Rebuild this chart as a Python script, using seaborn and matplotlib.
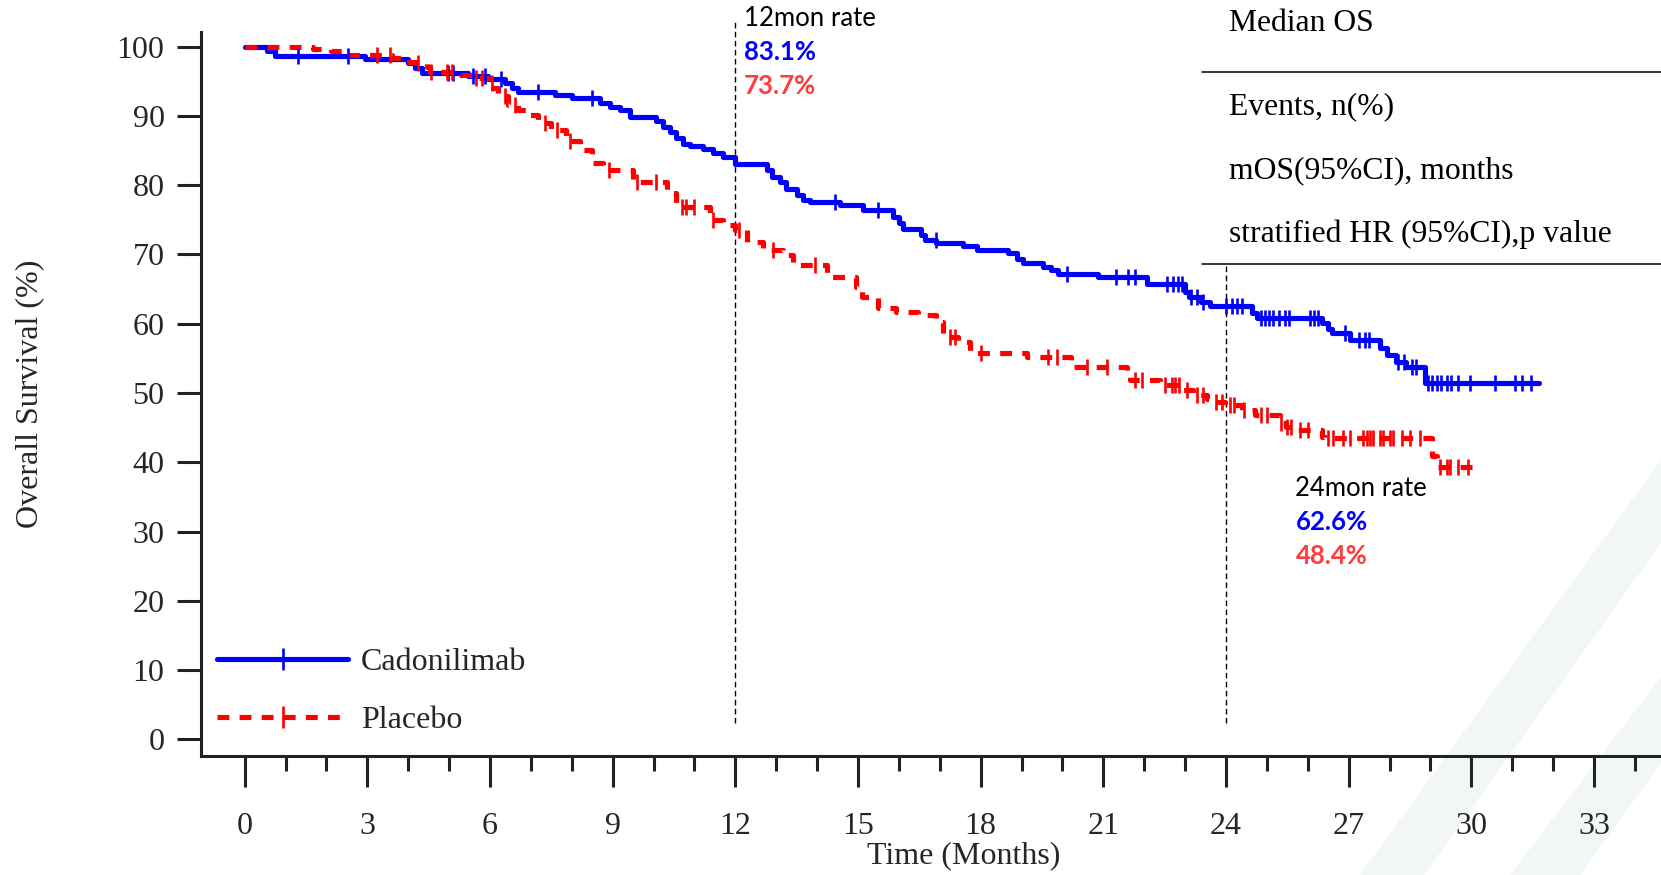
import numpy as np
import matplotlib
matplotlib.use("Agg")
import matplotlib.pyplot as plt
from matplotlib.lines import Line2D
from matplotlib.patches import Polygon
import seaborn as sns

# Kaplan-Meier step points (months, survival %)
blue_time = [0, 0.54, 0.74, 2.94, 4.0, 4.16, 4.33, 5.46, 5.95, 6.37, 6.53, 6.69, 7.59, 8.0,
             8.69, 8.93, 9.17, 9.42, 10.07, 10.23, 10.4, 10.56, 10.72, 10.9, 11.2, 11.45, 11.7,
             12.0, 12.77, 12.9, 13.1, 13.25, 13.5, 13.65, 13.83, 14.56, 15.13, 15.86, 16.0, 16.1,
             16.55, 16.64, 16.92, 17.57, 17.9, 18.67, 18.88, 19.04, 19.53, 19.73, 19.9, 20.87,
             22.06, 23.0, 23.1, 23.4, 23.6, 24.63, 24.75, 26.34, 26.5, 26.6, 27.03, 27.77, 27.93,
             28.17, 28.4, 28.86]
blue_surv = [100, 99.3, 98.6, 98.2, 97.6, 96.9, 96.2, 95.8, 95.3, 94.8, 94.0, 93.5, 93.0, 92.6,
             91.9, 91.3, 90.8, 89.9, 89.2, 88.4, 87.7, 86.8, 86.0, 85.6, 85.2, 84.6, 84.1,
             83.0, 82.2, 81.2, 80.5, 79.5, 78.6, 77.9, 77.6, 77.1, 76.4, 75.4, 74.5, 73.6,
             72.8, 72.1, 71.7, 71.2, 70.7, 70.2, 69.4, 68.7, 68.2, 67.7, 67.2, 66.7,
             65.8, 64.6, 63.9, 63.2, 62.6, 61.5, 60.8, 60.1, 59.3, 58.6, 57.6, 56.5, 55.5,
             54.5, 53.8, 51.5]
blue_end = 31.66
blue_censor = [1.31, 2.53, 4.97, 5.1, 5.58, 5.88, 6.28, 7.18, 8.5, 14.44, 15.5, 16.9, 20.1,
               21.3, 21.6, 21.78, 22.55, 22.7, 22.83, 22.92, 23.15, 23.3, 23.45, 24.0, 24.14,
               24.26, 24.38, 24.85, 24.95, 25.05, 25.15, 25.3, 25.45, 25.55, 26.05, 26.15, 26.25,
               26.9, 27.25, 27.4, 27.5, 28.2, 28.35, 28.55, 28.65, 28.95, 29.05, 29.15, 29.25,
               29.4, 29.5, 29.68, 29.97, 30.58, 31.07, 31.23, 31.47]

red_time = [0, 1.67, 2.1, 2.5, 3.6, 3.92, 4.2, 4.45, 4.53, 5.3, 5.55, 5.96, 6.08, 6.2, 6.45,
            6.69, 6.94, 7.18, 7.5, 7.87, 8.2, 8.49, 8.77, 9.5, 10.32, 10.56, 11.38, 11.7, 12.0,
            12.28, 12.68, 13.17, 13.42, 14.23, 14.95, 15.1, 15.5, 15.94, 16.47, 16.92, 17.08,
            17.45, 17.74, 19.13, 20.2, 21.57, 21.65, 22.38, 22.95, 23.2, 23.53, 23.65, 23.97,
            24.38, 24.7, 25.32, 25.48, 25.68, 26.34, 26.42, 29.05, 29.15]
red_surv = [100, 99.6, 99.3, 98.8, 98.3, 97.8, 97.6, 97.1, 96.4, 95.9, 95.4, 94.7, 94.0, 92.8,
            91.6, 90.8, 90.1, 88.9, 88.0, 86.3, 85.1, 83.2, 82.2, 80.5, 78.8, 76.9, 75.0, 74.2,
            73.5, 71.8, 70.6, 69.9, 68.5, 66.8, 65.3, 63.9, 62.2, 61.7, 61.3, 60.3, 58.1,
            57.4, 55.7, 55.2, 53.8, 52.8, 51.9, 51.2, 50.4, 49.7, 49.2, 48.7, 48.3,
            47.5, 46.8, 45.6, 45.1, 44.7, 43.7, 43.5, 40.9, 39.3]
red_end = 30.1
red_censor = [3.23, 3.55, 4.24, 4.55, 4.96, 5.07, 5.65, 5.8, 6.04, 6.37, 6.61, 7.34, 7.63, 7.96,
              8.9, 9.6, 10.07, 10.69, 10.8, 11.0, 11.46, 12.1, 12.93, 13.95, 17.25, 17.37, 18.02,
              19.65, 19.86, 20.6, 21.08, 21.78, 21.94, 22.5, 22.67, 22.75, 22.85, 23.05, 23.3,
              23.45, 23.75, 23.9, 24.1, 24.2, 24.45, 24.85, 25.0, 25.35, 25.5, 25.6, 25.8, 26.0,
              26.5, 26.62, 26.87, 27.03, 27.36, 27.44, 27.52, 27.6, 27.77, 27.85, 28.01, 28.09,
              28.3, 28.5, 28.74, 29.23, 29.4, 29.47, 29.68, 29.92]

groups = ["Cadonilimab", "Placebo"]
rate_months = [12, 24]
rates_blue = ["83.1%", "62.6%"]
rates_red = ["73.7%", "48.4%"]
table_rows = ["Median OS", "Events, n(%)", "mOS(95%CI), months", "stratified HR (95%CI),p value"]

BLUE = "#0000ff"
RED = "#ff0000"
RED_TXT = "#ff3b3b"
SERIF = ["Liberation Serif", "DejaVu Serif"]
SANS = ["Lato", "DejaVu Sans"]

sns.set_theme(style="ticks")
plt.rcParams["font.family"] = SERIF

fig = plt.figure(figsize=(16.61, 8.75), dpi=100)

# faint diagonal watermark stripes in the lower right corner (behind everything)
for pts in ([(1360, 875), (1661, 460), (1661, 543), (1424, 875)],
            [(1510, 875), (1661, 677), (1661, 763), (1580, 875)]):
    fig.patches.append(Polygon([(x / 1661, 1 - y / 875) for x, y in pts], closed=True,
                               transform=fig.transFigure, facecolor="#f2f6f6",
                               edgecolor="none", zorder=-5))

ax = fig.add_axes([0.1212, 0.1357, 0.8788, 0.828])
ax.patch.set_alpha(0)


def step_at(times, surv, t):
    idx = np.searchsorted(times, t, side="right") - 1
    return np.asarray(surv)[idx]


# survival curves
sns.lineplot(x=blue_time + [blue_end], y=blue_surv + [blue_surv[-1]], ax=ax,
             drawstyle="steps-post", estimator=None, color=BLUE, lw=3.7, zorder=3)
sns.lineplot(x=red_time + [red_end], y=red_surv + [red_surv[-1]], ax=ax,
             drawstyle="steps-post", estimator=None, color=RED, lw=3.7,
             linestyle=(0, (2.3, 2.0)), zorder=3)

# censor marks
sns.scatterplot(x=blue_censor, y=step_at(blue_time, blue_surv, blue_censor), ax=ax,
                marker="|", s=140, color=BLUE, edgecolor=None, linewidth=1.9, zorder=4)
sns.scatterplot(x=red_censor, y=step_at(red_time, red_surv, red_censor), ax=ax,
                marker="|", s=140, color=RED, edgecolor=None, linewidth=1.9, zorder=4)

# landmark lines and rates
ax.plot([rate_months[0]] * 2, [2.3, 104.0], color="black", lw=1.0,
        linestyle=(0, (4, 2.5)), clip_on=False, zorder=2)
ax.plot([rate_months[1]] * 2, [2.3, 68.5], color="black", lw=1.0,
        linestyle=(0, (4, 2.5)), clip_on=False, zorder=2)

for i, (tx, ty) in enumerate([(12.2, 104.1), (25.7, 36.25)]):
    ax.text(tx, ty, f"{rate_months[i]}mon rate", family=SANS, fontsize=18.5, color="black",
            va="center", ha="left", clip_on=False)
    ax.text(tx, ty - 4.9, rates_blue[i], family=SANS, fontsize=18.5, fontweight="bold",
            color=BLUE, va="center", ha="left", clip_on=False)
    ax.text(tx, ty - 9.8, rates_red[i], family=SANS, fontsize=18.5, fontweight="bold",
            color=RED_TXT, va="center", ha="left", clip_on=False)

# summary table header (text only, values not shown in the source)
row_y = [0.9734, 0.8777, 0.8051, 0.7325]
for label, y in zip(table_rows, row_y):
    fig.text(0.7398, y, label, fontsize=22.8, va="center", ha="left", color="black")
for y in [0.9177, 0.6985]:
    fig.add_artist(Line2D([0.7238, 1.0], [y, y], transform=fig.transFigure,
                          color="black", lw=1.1))

# axes styling
ax.set_xlim(-1.061, 34.64)
ax.set_ylim(-2.44, 102.14)
ax.set_xticks(np.arange(0, 34, 3))
ax.set_xticks(np.arange(0, 35, 1), minor=True)
ax.set_yticks(np.arange(0, 101, 10))
for side in ["top", "right"]:
    ax.spines[side].set_visible(False)
for side in ["left", "bottom"]:
    ax.spines[side].set_linewidth(2.2)
    ax.spines[side].set_color("#222222")
ax.tick_params(axis="y", length=17.5, width=2.2, pad=9, labelsize=23, color="#222222")
ax.tick_params(axis="x", which="major", length=22, width=2.2, pad=18, labelsize=23,
               color="#222222")
ax.tick_params(axis="x", which="minor", length=11, width=2.2, color="#222222")

ax.set_xlabel("Time (Months)", fontsize=23, va="center")
ax.set_ylabel("Overall Survival (%)", fontsize=23, va="center")
ax.xaxis.set_label_coords(0.5225, -0.1376)
ax.yaxis.set_label_coords(-0.1176, 0.5)

handles = [Line2D([], [], color=BLUE, lw=3.7, marker="|", markersize=16, markeredgewidth=1.9),
           Line2D([], [], color=RED, lw=3.7, linestyle=(0, (2.3, 2.0)), marker="|",
                  markersize=16, markeredgewidth=1.9)]
ax.legend(handles, groups, loc="lower left", bbox_to_anchor=(0.0108, 0.029),
          frameon=False, fontsize=23, handlelength=4.1, handletextpad=0.4,
          labelspacing=0.9, borderpad=0, borderaxespad=0, numpoints=1)

fig.savefig("out.png", dpi=100)
